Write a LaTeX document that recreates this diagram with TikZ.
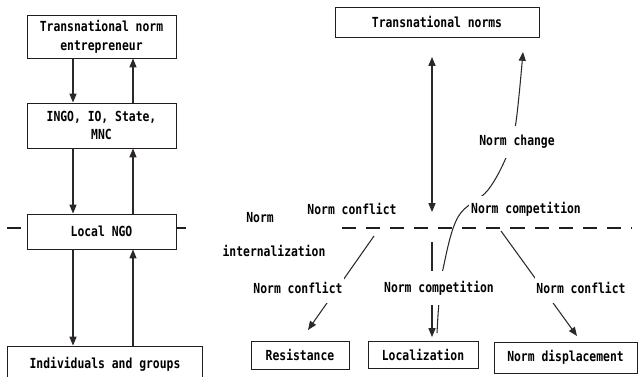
\documentclass[tikz,border=0pt]{standalone}
\usepackage{fontspec}
\setmonofont{DejaVu Sans Mono}[FakeStretch=0.82]
\usetikzlibrary{arrows.meta}
\definecolor{boxline}{RGB}{35,30,30}
\definecolor{arrline}{RGB}{45,40,40}

\begin{document}
\begin{tikzpicture}[x=0.02cm,y=-0.02cm,
        font=\ttfamily\bfseries\fontsize{7.9}{10.6}\selectfont,
        box/.style={draw=boxline,line width=0.55pt,fill=white,align=center,inner sep=0pt},
        lbl/.style={fill=white,inner xsep=1pt,inner ysep=5.5pt},
        arr/.style={draw=arrline,line width=0.6pt,-{Triangle[length=5pt,width=4pt]}},
        dashline/.style={draw=boxline,line width=1.7pt,dash pattern=on 8pt off 5.7pt}]
        \useasboundingbox (0,0) rectangle (643,376);
        \node[box,minimum width=2.98cm,minimum height=0.86cm] (ent) at (101.5,36.5) {Transnational norm\\entrepreneur};
        \node[box,minimum width=2.98cm,minimum height=0.9cm] (ingo) at (101.5,125.5) {INGO, IO, State,\\MNC};
        \node[box,minimum width=2.98cm,minimum height=0.7cm] (lngo) at (101.5,231.5) {Local NGO};
        \node[box,minimum width=3.92cm,minimum height=0.72cm] (indiv) at (105,364) {Individuals and groups};
        \draw[arr] ([xshift=-0.57cm]ent.south) -- ([xshift=-0.57cm]ingo.north);
        \draw[arr] ([xshift=0.63cm]ingo.north) -- ([xshift=0.63cm]ent.south);
        \draw[arr] ([xshift=-0.57cm]ingo.south) -- ([xshift=-0.57cm]lngo.north);
        \draw[arr] ([xshift=0.63cm]lngo.north) -- ([xshift=0.63cm]ingo.south);
        \draw[arr] ([xshift=-0.57cm]lngo.south) -- ([xshift=-0.57cm]lngo.south |- indiv.north);
        \draw[arr] ([xshift=0.63cm]lngo.south |- indiv.north) -- ([xshift=0.63cm]lngo.south);
        \draw[dashline] (7,228) -- (lngo.west |- 7,228);
        \draw[dashline] (lngo.east |- 7,228) -- (186,228);
        \draw[dashline] (342,228) -- (632,228);
        \node[box,minimum width=4.08cm,minimum height=0.6cm] (tnorms) at (437,22) {Transnational norms};
        \node[box,minimum width=1.96cm,minimum height=0.56cm] (resist) at (300,355) {Resistance};
        \node[box,minimum width=2.2cm,minimum height=0.54cm] (local) at (423,354.5) {Localization};
        \node[box,minimum width=2.86cm,minimum height=0.62cm] (displ) at (565.5,357.5) {Norm displacement};
        \coordinate (up) at (432,57);
        \coordinate (dn) at (432,212);
        \coordinate (below) at (432,242);
        \coordinate (resfrom) at (374,236);
        \coordinate (resto) at (308,330);
        \coordinate (disfrom) at (501,231);
        \coordinate (disto) at (577,336);
        \draw[arr,{Triangle[length=5pt,width=4pt]}-{Triangle[length=5pt,width=4pt]}] (up) -- (dn);
        \draw[arr,shorten >=2pt] (below) -- (below |- local.north);
        \draw[arr] plot[smooth,tension=0.6] coordinates {(437,333) (439,302) (443,269) (458,217) (488,190) (508,153) (516,122) (523,52)};
        \draw[arr] (resfrom) -- (resto);
        \draw[arr] (disfrom) -- (disto);
        \node (conflA) at (352,209) {Norm conflict};
        \node[lbl,inner ysep=3.5pt] (compA) at (526,209) {Norm competition};
        \node[lbl] (change) at (517,142) {Norm change};
        \node (norm) at (260,218) {Norm};
        \node (intern) at (274,251) {internalization};
        \node[lbl] (conflB) at (298,288) {Norm conflict};
        \node[lbl] (compB) at (439,288) {Norm competition};
        \node[lbl] (conflC) at (581,288) {Norm conflict};
    \end{tikzpicture}
\end{document}
